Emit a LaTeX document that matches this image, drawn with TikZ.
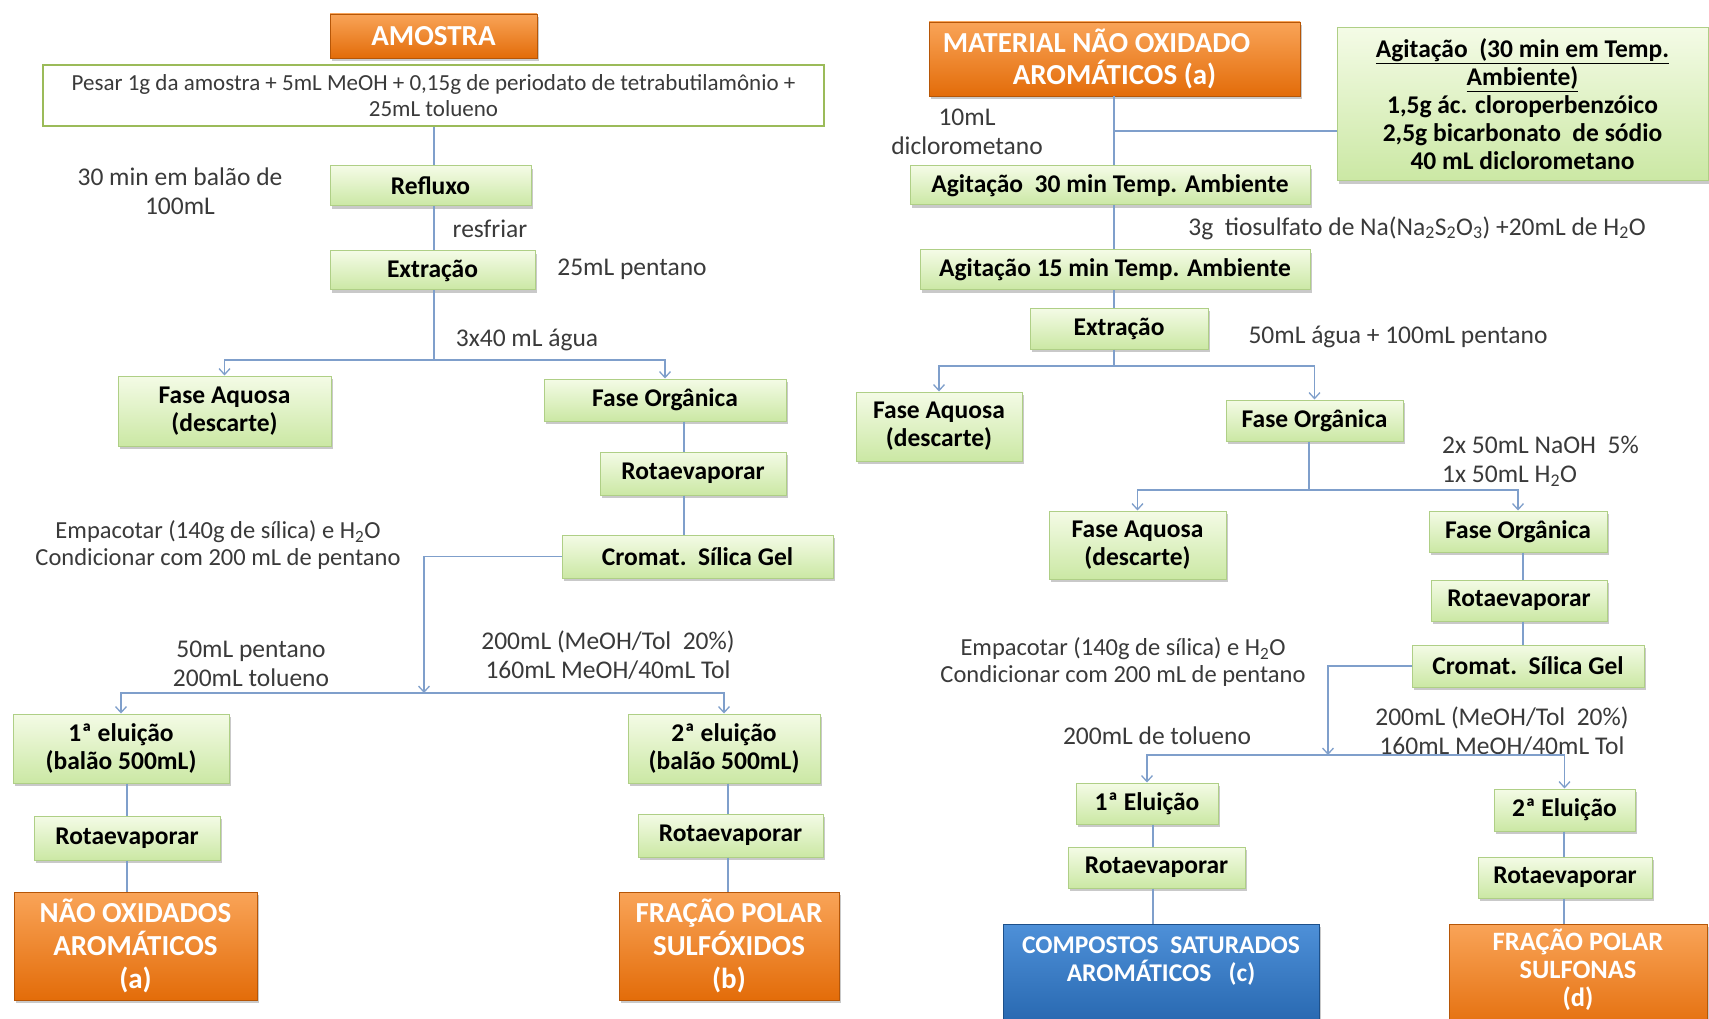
\documentclass[tikz,border=0pt]{standalone}
\usepackage{fontspec}
\setmainfont{Carlito}
\usetikzlibrary{arrows.meta,shadows,calc}
\definecolor{gT}{HTML}{F4FBE6}
\definecolor{gBot}{HTML}{CBE8A4}
\definecolor{gBd}{HTML}{AFCF86}
\definecolor{pBd}{HTML}{9BBB59}
\definecolor{oT}{HTML}{F9A458}
\definecolor{oB}{HTML}{E36C09}
\definecolor{bT}{HTML}{4E90D8}
\definecolor{bB}{HTML}{2464AC}
\definecolor{lc}{HTML}{7F9FCB}
\definecolor{tx}{HTML}{3A3A3A}
\tikzset{
  shad/.style={drop shadow={shadow xshift=2pt,shadow yshift=-3pt,opacity=0.35,fill=black!60}},
  gbox/.style={shad,draw=gBd,line width=1pt,top color=gT,bottom color=gBot,
    font=\bfseries\fontsize{25.5}{28}\selectfont,align=center,inner sep=1pt},
  pbox/.style={draw=pBd,line width=2.2pt,fill=white,
    font=\fontsize{23}{26}\selectfont,text=tx,align=center,inner sep=1pt},
  obox/.style={shad,draw=oB!80!black,line width=0.6pt,top color=oT,bottom color=oB,
    text=white,font=\bfseries\fontsize{29}{33}\selectfont,align=center,inner sep=1pt},
  bbox/.style={shad,draw=bB!80!black,line width=0.6pt,top color=bT,bottom color=bB,
    text=white,font=\bfseries\fontsize{25.5}{28}\selectfont,align=center,inner sep=1pt},
  lbl/.style={text=tx,font=\fontsize{25.5}{29}\selectfont,align=center,inner sep=0pt},
  emp/.style={lbl,font=\fontsize{24.5}{27}\selectfont},
  conn/.style={draw=lc,line width=1.5pt},
  arr/.style={conn,-{Straight Barb[length=6pt,width=11pt,line width=1.3pt]}}
}
\begin{document}
\begin{tikzpicture}[x=1pt,y=-1pt]
\fill[white] (0,0) rectangle (1709,1019);
\useasboundingbox (0,0) rectangle (1709,1019);

% ---------------- left column ----------------
\node[obox,minimum width=207,minimum height=44] (amostra) at (433.5,36) {AMOSTRA};
\node[pbox,minimum width=781,minimum height=61] (pesar) at (433.5,95.5)
  {Pesar 1g da amostra + 5mL MeOH + 0,15g de periodato de tetrabutilamônio +\\25mL tolueno};
\node[gbox,minimum width=201,minimum height=40] (refluxo) at (430.5,186) {Refluxo};
\node[gbox,minimum width=205,minimum height=39] (extr1) at (432.5,270.5) {Extração};
\node[gbox,minimum width=213,minimum height=70] (aq1) at (224.5,411) {Fase Aquosa\\(descarte)};
\node[gbox,minimum width=242,minimum height=42] (org1) at (665,400) {Fase Orgânica};
\node[gbox,minimum width=186,minimum height=43] (rot1) at (693,473.5) {Rotaevaporar};
\node[gbox,minimum width=271,minimum height=43] (crom1) at (697.5,556.5) {Cromat.\ \ Sílica Gel};
\node[gbox,minimum width=216,minimum height=69] (el1) at (121,748.5) {1ª eluição\\(balão 500mL)};
\node[gbox,minimum width=192,minimum height=69] (el2) at (724,748.5) {2ª eluição\\(balão 500mL)};
\node[gbox,minimum width=186,minimum height=44] (rot1a) at (127,838) {Rotaevaporar};
\node[gbox,minimum width=185,minimum height=43] (rot1b) at (730.5,835.5) {Rotaevaporar};
\node[obox,minimum width=243,minimum height=108] (naoox) at (135.5,946) {NÃO OXIDADOS\\AROMÁTICOS\\(a)};
\node[obox,minimum width=220,minimum height=108] (sulfox) at (729,946) {FRAÇÃO POLAR\\SULFÓXIDOS\\(b)};

\node[lbl] (l1) at (180,191.5) {30 min em balão de\\100mL};
\node[lbl] (l2) at (490,229) {resfriar};
\node[lbl] (l3) at (632,269) {25mL pentano};
\node[lbl] (l4) at (527,340) {3x40 mL água};
\node[emp] (l5) at (218,545) {Empacotar (140g de sílica) e H\textsubscript{2}O\\Condicionar com 200 mL de pentano};
\node[lbl] (l6) at (251,664) {50mL pentano\\200mL tolueno};
\node[lbl] (l7) at (608,655) {200mL (MeOH/Tol\ \ 20\%)\\160mL MeOH/40mL Tol};

\coordinate (b1) at (434,360);
\draw[conn] (pesar.south -| b1) -- (refluxo.north -| b1);
\draw[conn] (refluxo.south -| b1) -- (extr1.north -| b1);
\draw[conn] (extr1.south -| b1) -- (b1);
\draw[arr] (b1) -| (aq1.north);
\draw[arr] (b1) -| (org1.north);
\coordinate (x1) at (684,0);
\draw[conn] (org1.south -| x1) -- (rot1.north -| x1);
\draw[conn] (rot1.south -| x1) -- (crom1.north -| x1);
\coordinate (b2) at (424,693);
\draw[arr] (crom1.west) -| (b2);
\draw[arr] (b2) -| (el1.north);
\draw[arr] (b2) -| (el2.north);
\coordinate (x2) at (127,0);
\draw[conn] (el1.south -| x2) -- (rot1a.north -| x2);
\draw[conn] (rot1a.south -| x2) -- (naoox.north -| x2);
\coordinate (x3) at (728,0);
\draw[conn] (el2.south -| x3) -- (rot1b.north -| x3);
\draw[conn] (rot1b.south -| x3) -- (sulfox.north -| x3);

% ---------------- right column ----------------
\node[obox,minimum width=371,minimum height=74,font=\bfseries\fontsize{29}{32}\selectfont] (mat) at (1114.5,59) {MATERIAL NÃO OXIDADO\hspace*{36pt}\\AROMÁTICOS (a)};
\node[gbox,minimum width=371,minimum height=153] (agbig) at (1522.5,104.5)
  {\underline{Agitação\ \ (30 min em Temp.}\\\underline{Ambiente)}\\1,5g ác. cloroperbenzóico\\2,5g bicarbonato\ \ de sódio\\40 mL diclorometano};
\node[gbox,minimum width=400,minimum height=39] (ag30) at (1110,185.5) {Agitação\ \ 30 min Temp. Ambiente};
\node[gbox,minimum width=390,minimum height=40] (ag15) at (1115,270) {Agitação 15 min Temp. Ambiente};
\node[gbox,minimum width=178,minimum height=41] (extr2) at (1119,328.5) {Extração};
\node[gbox,minimum width=166,minimum height=69] (aq2) at (939,426.5) {Fase Aquosa\\(descarte)};
\node[gbox,minimum width=177,minimum height=41] (org2) at (1314.5,420.5) {Fase Orgânica};
\node[gbox,minimum width=177,minimum height=68] (aq3) at (1137.5,545) {Fase Aquosa\\(descarte)};
\node[gbox,minimum width=178,minimum height=41] (org3) at (1518,531.5) {Fase Orgânica};
\node[gbox,minimum width=176,minimum height=41] (rot2) at (1519,600.5) {Rotaevaporar};
\node[gbox,minimum width=232,minimum height=42] (crom2) at (1528,666) {Cromat.\ \ Sílica Gel};
\node[gbox,minimum width=142,minimum height=41] (el3) at (1147,803.5) {1ª Eluição};
\node[gbox,minimum width=141,minimum height=42] (el4) at (1564.5,810) {2ª Eluição};
\node[gbox,minimum width=177,minimum height=41] (rot3) at (1156.5,867.5) {Rotaevaporar};
\node[gbox,minimum width=174,minimum height=41] (rot4) at (1565,877.5) {Rotaevaporar};
\node[bbox,minimum width=316,minimum height=110,text depth=40pt] (comp) at (1161,979) {COMPOSTOS\ \ SATURADOS\\AROMÁTICOS\ \ \ (c)};
\node[obox,minimum width=258,minimum height=110,text depth=22pt,font=\bfseries\fontsize{26.5}{28}\selectfont] (sulfon) at (1578,979) {FRAÇÃO POLAR\\SULFONAS\\(d)};

\node[lbl] (r1) at (967,131.5) {10mL\\diclorometano};
\node[lbl] (r2) at (1417,228) {3g\ \ tiosulfato de Na(Na\textsubscript{2}S\textsubscript{2}O\textsubscript{3}) +20mL de H\textsubscript{2}O};
\node[lbl] (r3) at (1398,337) {50mL água + 100mL pentano};
\node[lbl,align=left,anchor=west] (r4) at (1442,461) {2x 50mL NaOH\ \ 5\%\\1x 50mL H\textsubscript{2}O};
\node[emp] (r5) at (1123,662) {Empacotar (140g de sílica) e H\textsubscript{2}O\\Condicionar com 200 mL de pentano};
\node[lbl] (r6) at (1157,736) {200mL de tolueno};
\node[lbl] (r7) at (1502,731) {200mL (MeOH/Tol\ \ 20\%)\\160mL MeOH/40mL Tol};

\coordinate (x4) at (1114,0);
\draw[conn] (mat.south -| x4) -- (ag30.north -| x4);
\coordinate (j1) at (1114,131);
\draw[conn] (agbig.west |- j1) -- (j1);
\draw[conn] (ag30.south -| x4) -- (ag15.north -| x4);
\draw[conn] (ag15.south -| x4) -- (extr2.north -| x4);
\coordinate (b3) at (1114,366);
\draw[conn] (extr2.south -| b3) -- (b3);
\draw[arr] (b3) -| (aq2.north);
\draw[arr] (b3) -| (org2.north);
\coordinate (b4) at (1309,490);
\draw[conn] (org2.south -| b4) -- (b4);
\draw[arr] (b4) -| (aq3.north);
\draw[arr] (b4) -| (org3.north);
\coordinate (x5) at (1523,0);
\draw[conn] (org3.south -| x5) -- (rot2.north -| x5);
\draw[conn] (rot2.south -| x5) -- (crom2.north -| x5);
\coordinate (b5) at (1328,755);
\draw[arr] (crom2.west) -| (b5);
\draw[arr] (b5) -| (el3.north);
\draw[arr] (b5) -| (el4.north);
\coordinate (x6) at (1153,0);
\draw[conn] (el3.south -| x6) -- (rot3.north -| x6);
\draw[conn] (rot3.south -| x6) -- (comp.north -| x6);
\coordinate (x7) at (1564,0);
\draw[conn] (el4.south -| x7) -- (rot4.north -| x7);
\draw[conn] (rot4.south -| x7) -- (sulfon.north -| x7);
\end{tikzpicture}
\end{document}
